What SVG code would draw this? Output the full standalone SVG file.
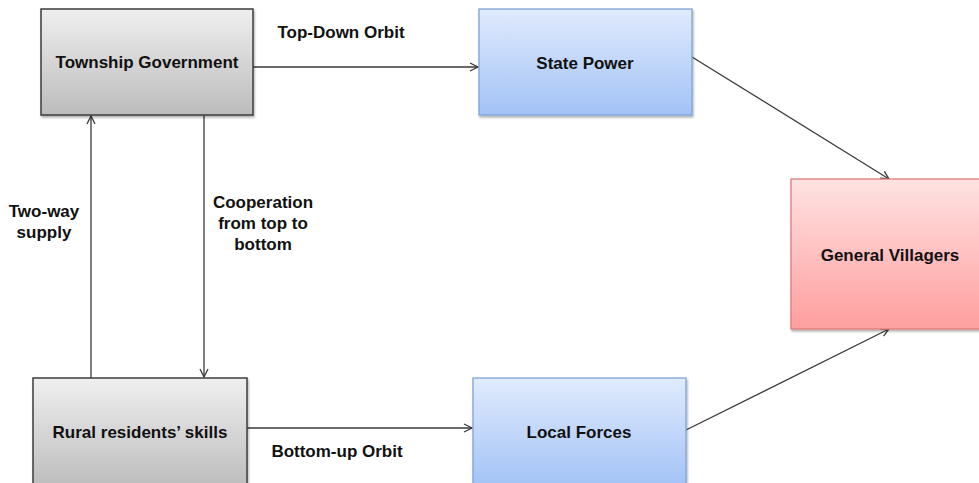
<svg xmlns="http://www.w3.org/2000/svg" width="979" height="483" viewBox="0 0 979 483">
  <defs>
    <linearGradient id="gGray" x1="0" y1="0" x2="0" y2="1">
      <stop offset="0" stop-color="#efefef"/>
      <stop offset="1" stop-color="#bcbcbc"/>
    </linearGradient>
    <linearGradient id="gBlue" x1="0" y1="0" x2="0" y2="1">
      <stop offset="0" stop-color="#e0ebfd"/>
      <stop offset="1" stop-color="#a2c2f6"/>
    </linearGradient>
    <linearGradient id="gRed" x1="0" y1="0" x2="0" y2="1">
      <stop offset="0" stop-color="#ffe2e2"/>
      <stop offset="1" stop-color="#ff9e9e"/>
    </linearGradient>
    <filter id="shadow" x="-5%" y="-5%" width="115%" height="115%">
      <feDropShadow dx="1" dy="2" stdDeviation="1.2" flood-color="#000" flood-opacity="0.3"/>
    </filter>
    <marker id="arrow" viewBox="0 0 10 10" refX="9" refY="5" markerWidth="10" markerHeight="10" markerUnits="userSpaceOnUse" orient="auto">
      <path d="M1,1 L9,5 L1,9" fill="none" stroke="#3a3a3a" stroke-width="1.3"/>
    </marker>
  </defs>
  <style>
    .gray { fill: url(#gGray); stroke: #3c3c3c; stroke-width: 1.5; }
    .blue { fill: url(#gBlue); stroke: #7fa3d9; stroke-width: 1.3; }
    .red { fill: url(#gRed); stroke: #e07c7c; stroke-width: 1.3; }
    .node text, .lbl { font-family: "Liberation Sans", Arial, sans-serif; font-weight: bold; font-size: 17px; fill: #111; text-anchor: middle; }
    .edge { fill: none; stroke: #3a3a3a; stroke-width: 1.3; marker-end: url(#arrow); }
  </style>
  <rect width="979" height="483" fill="#fff"/>

  <g id="connectors">
    <line class="edge" x1="253" y1="67" x2="478" y2="67"/>
    <line class="edge" x1="692" y1="57" x2="889" y2="179"/>
    <line class="edge" x1="686" y1="430" x2="889" y2="329"/>
    <line class="edge" x1="247" y1="428" x2="472" y2="428"/>
    <line class="edge" x1="91" y1="378" x2="91" y2="116"/>
    <line class="edge" x1="204" y1="115" x2="204" y2="377"/>
  </g>

  <g id="labels">
    <text class="lbl" x="341" y="38">Top-Down Orbit</text>
    <text class="lbl" x="337" y="457">Bottom-up Orbit</text>
    <text class="lbl" x="44" y="217">Two-way</text>
    <text class="lbl" x="44" y="238">supply</text>
    <text class="lbl" x="263" y="208">Cooperation</text>
    <text class="lbl" x="263" y="229">from top to</text>
    <text class="lbl" x="263" y="250">bottom</text>
  </g>

  <g id="township-government" class="node">
    <rect class="gray" x="41" y="9" width="212" height="106" filter="url(#shadow)"/>
    <text x="147" y="68">Township Government</text>
  </g>
  <g id="state-power" class="node">
    <rect class="blue" x="479" y="9" width="213" height="106" filter="url(#shadow)"/>
    <text x="585" y="69">State Power</text>
  </g>
  <g id="general-villagers" class="node">
    <rect class="red" x="791" y="179" width="198" height="150" filter="url(#shadow)"/>
    <text x="890" y="261">General Villagers</text>
  </g>
  <g id="rural-residents-skills" class="node">
    <rect class="gray" x="33" y="378" width="214" height="110" filter="url(#shadow)"/>
    <text x="140" y="438">Rural residents’ skills</text>
  </g>
  <g id="local-forces" class="node">
    <rect class="blue" x="473" y="378" width="213" height="110" filter="url(#shadow)"/>
    <text x="579" y="438">Local Forces</text>
  </g>
</svg>
